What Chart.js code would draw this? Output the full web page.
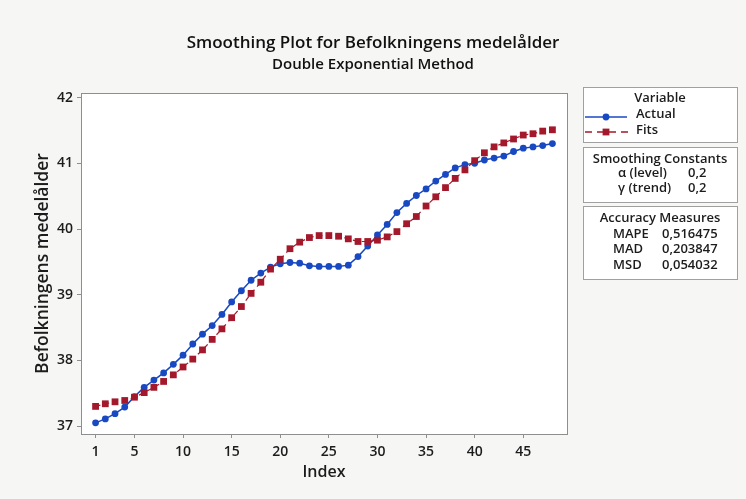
<!DOCTYPE html>
<html>
<head>
<meta charset="utf-8">
<script src="https://cdn.jsdelivr.net/npm/chart.js@4.4.0/dist/chart.umd.min.js"></script>
<style>
  html, body { margin: 0; padding: 0; background: #f6f6f4; }
  #wrap { width: 746px; height: 499px; }
</style>
</head>
<body>
<div id="wrap"><canvas id="smoothChart" width="746" height="499"></canvas></div>
<script>
// Data (index 1..48)
const indexTicks = [1, 5, 10, 15, 20, 25, 30, 35, 40, 45];
const valueTicks = [37, 38, 39, 40, 41, 42];

const actual = [
    37.05, 37.11, 37.19, 37.29, 37.45, 37.59, 37.70, 37.81, 37.94, 38.08,
    38.25, 38.40, 38.53, 38.70, 38.89, 39.06, 39.22, 39.33, 39.42, 39.47,
    39.49, 39.48, 39.44, 39.43, 39.43, 39.43, 39.45, 39.58, 39.74, 39.91,
    40.07, 40.25, 40.39, 40.51, 40.61, 40.73, 40.83, 40.93, 40.98, 41.00,
    41.05, 41.08, 41.11, 41.18, 41.23, 41.25, 41.27, 41.30
];
const fits = [
    37.30, 37.34, 37.37, 37.39, 37.44, 37.51, 37.59, 37.68, 37.78, 37.90,
    38.02, 38.16, 38.32, 38.48, 38.65, 38.82, 39.02, 39.19, 39.39, 39.54,
    39.70, 39.80, 39.87, 39.90, 39.90, 39.89, 39.85, 39.81, 39.81, 39.83,
    39.88, 39.96, 40.08, 40.19, 40.35, 40.49, 40.63, 40.77, 40.90, 41.04,
    41.16, 41.25, 41.31, 41.37, 41.43, 41.45, 41.49, 41.51
];

const smoothingConstants = [['α (level)', '0,2'], ['γ (trend)', '0,2']];
const accuracyMeasures = [['MAPE', '0,516475'], ['MAD', '0,203847'], ['MSD', '0,054032']];

const BLUE = '#1849c2';
const RED = '#a3182b';
const FRAME = '#8e8e8e';
const TEXT = '#1c1c1c';
const FAMILY = '"Open Sans", "Noto Sans", sans-serif';

// white plot area + frame round it
const framePlugin = {
    id: 'frame',
    beforeDatasetsDraw(chart) {
        const a = chart.chartArea;
        const ctx = chart.ctx;
        ctx.save();
        ctx.fillStyle = '#ffffff';
        ctx.fillRect(a.left, a.top, a.right - a.left, a.bottom - a.top);
        ctx.restore();
    },
    afterDraw(chart) {
        const a = chart.chartArea;
        const ctx = chart.ctx;
        ctx.save();
        ctx.strokeStyle = FRAME;
        ctx.lineWidth = 1;
        ctx.strokeRect(a.left + 0.5, a.top + 0.5, a.right - a.left, a.bottom - a.top);
        ctx.restore();
    }
};

// the three boxes on the right (Variable / Smoothing Constants / Accuracy Measures)
const infoPlugin = {
    id: 'infoBoxes',
    afterDraw(chart) {
        const ctx = chart.ctx;
        const a = chart.chartArea;
        const left = a.right + 16;
        const w = 154;
        const cx = left + w / 2;

        function box(top, h) {
            ctx.fillStyle = '#ffffff';
            ctx.fillRect(left, top, w, h);
            ctx.strokeStyle = '#a0a0a0';
            ctx.lineWidth = 1;
            ctx.strokeRect(left + 0.5, top + 0.5, w, h);
        }
        function text(str, x, y, align) {
            ctx.fillStyle = TEXT;
            ctx.textAlign = align;
            ctx.textBaseline = 'middle';
            ctx.fillText(str, x, y);
        }

        ctx.save();
        ctx.font = '600 13px ' + FAMILY;

        // Variable
        box(87, 55);
        text('Variable', cx, 98, 'center');
        ctx.strokeStyle = BLUE;
        ctx.lineWidth = 1.5;
        ctx.beginPath();
        ctx.moveTo(left + 2, 117);
        ctx.lineTo(left + 44, 117);
        ctx.stroke();
        ctx.fillStyle = BLUE;
        ctx.beginPath();
        ctx.arc(left + 23, 117, 3.4, 0, Math.PI * 2);
        ctx.fill();
        text('Actual', left + 53, 114.5, 'left');

        ctx.strokeStyle = RED;
        ctx.lineWidth = 1.3;
        ctx.setLineDash([7, 5]);
        ctx.beginPath();
        ctx.moveTo(left + 2, 132);
        ctx.lineTo(left + 48, 132);
        ctx.stroke();
        ctx.setLineDash([]);
        ctx.fillStyle = RED;
        ctx.fillRect(left + 23 - 3.4, 132 - 3.4, 6.8, 6.8);
        text('Fits', left + 53, 130.5, 'left');

        // Smoothing Constants
        box(147, 55);
        text('Smoothing Constants', cx, 159, 'center');
        smoothingConstants.forEach((row, i) => {
            text(row[0], left + 35, 173.5 + i * 15, 'left');
            text(row[1], left + 105, 173.5 + i * 15, 'left');
        });

        // Accuracy Measures
        box(206, 73);
        text('Accuracy Measures', cx, 218, 'center');
        accuracyMeasures.forEach((row, i) => {
            text(row[0], left + 30, 234 + i * 15.5, 'left');
            text(row[1], left + 79, 234 + i * 15.5, 'left');
        });
        ctx.restore();
    }
};

const ctx = document.getElementById('smoothChart').getContext('2d');
const smoothChart = new Chart(ctx, {
    type: 'line',
    data: {
        datasets: [
            {
                label: 'Fits',
                data: fits.map((v, i) => ({ x: i + 1, y: v })),
                borderColor: RED,
                backgroundColor: RED,
                borderWidth: 1.2,
                borderDash: [5, 4],
                pointStyle: 'rect',
                pointRadius: 4.8,
                pointBorderWidth: 0,
                tension: 0,
                order: 0
            },
            {
                label: 'Actual',
                data: actual.map((v, i) => ({ x: i + 1, y: v })),
                borderColor: BLUE,
                backgroundColor: BLUE,
                borderWidth: 1.5,
                pointStyle: 'circle',
                pointRadius: 3.4,
                pointBorderWidth: 0,
                tension: 0,
                order: 1
            }
        ]
    },
    options: {
        responsive: false,
        animation: false,
        devicePixelRatio: 1,
        layout: { padding: 0 },
        plugins: {
            legend: { display: false },
            tooltip: { enabled: false },
            title: {
                display: true,
                text: 'Smoothing Plot for Befolkningens medelålder',
                color: '#111',
                font: { family: FAMILY, size: 17, weight: '600' },
                padding: { top: 33, bottom: 0 }
            },
            subtitle: {
                display: true,
                text: 'Double Exponential Method',
                color: '#111',
                font: { family: FAMILY, size: 15, weight: '600' },
                padding: { top: 2, bottom: 19.6 }
            }
        },
        scales: {
            x: {
                type: 'linear',
                min: -0.5,
                max: 49.5,
                afterBuildTicks: s => { s.ticks = indexTicks.map(v => ({ value: v })); },
                afterFit: s => { s.height = 65; },
                grid: { drawOnChartArea: false, tickLength: 4, color: FRAME },
                border: { color: FRAME },
                ticks: {
                    autoSkip: false, maxRotation: 0, padding: 6,
                    color: TEXT, font: { family: FAMILY, size: 14, weight: '600' }
                },
                title: {
                    display: true, text: 'Index', color: TEXT,
                    font: { family: FAMILY, size: 16, weight: '600' },
                    padding: { top: 0, bottom: 17 }
                }
            },
            y: {
                type: 'linear',
                position: 'left',
                min: 36.88,
                max: 42.07,
                afterBuildTicks: s => { s.ticks = valueTicks.map(v => ({ value: v })); },
                afterFit: s => { s.width = 81; },
                grid: { drawOnChartArea: false, tickLength: 4, color: FRAME },
                border: { color: FRAME },
                ticks: {
                    padding: 4, color: TEXT,
                    font: { family: FAMILY, size: 14, weight: '600' }
                },
                title: {
                    display: true, text: 'Befolkningens medelålder', color: TEXT,
                    font: { family: FAMILY, size: 17.5, weight: '600' },
                    padding: { top: 33, bottom: 0 }
                }
            },
            // empty right axis only to hold room for the info boxes
            side: {
                type: 'linear',
                position: 'right',
                afterFit: s => { s.width = 179; },
                grid: { display: false, drawTicks: false },
                border: { display: false },
                ticks: { display: false }
            }
        }
    },
    plugins: [framePlugin, infoPlugin]
});
</script>
</body>
</html>
